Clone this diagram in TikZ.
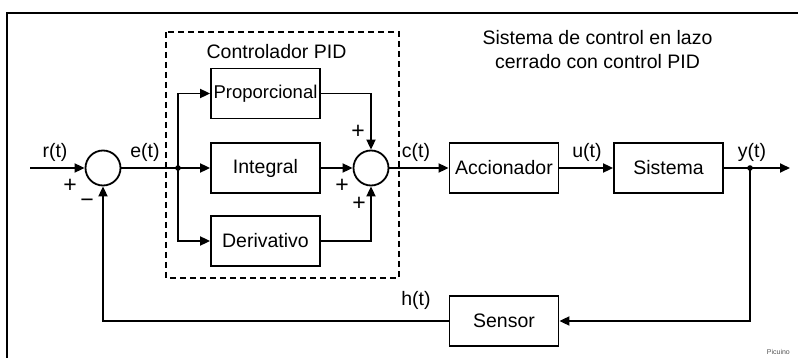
\documentclass[tikz,border=0pt]{standalone}
\usepackage{fontspec}
\setmainfont{Liberation Sans}
\usetikzlibrary{arrows.meta}

\begin{document}
\begin{tikzpicture}[x=1pt, y=-1pt, line width=1.8pt,
	block/.style={draw, rectangle, minimum width=109pt, minimum height=50pt, inner sep=0pt, font=\fontsize{19.5}{21}\selectfont},
	sumnode/.style={draw, circle, minimum size=35pt, inner sep=0pt},
	lbl/.style={font=\fontsize{19.5}{21}\selectfont, inner sep=0pt},
	sgn/.style={font=\fontsize{23}{23}\selectfont, inner sep=0pt},
	sig/.style={-{Triangle[length=10pt,width=9pt]}}]
	\definecolor{cFrame}{HTML}{000000}
	\definecolor{cCredit}{HTML}{555555}

	\useasboundingbox (0,0) rectangle (798,358);

	\draw[cFrame, line width=2.8pt] (7,360) -- (7,13) -- (800,13);
	\draw[dash pattern=on 6pt off 4pt] (166,32) rectangle (399,278);

	\node[lbl] (ctrl) at (276.5,52) {Controlador PID};
	\node[lbl, align=center] (title) at (597.5,50) {Sistema de control en lazo\\[3pt]cerrado con control PID};

	\node[block] (prop) at (265.5,93.5) {\fontsize{18.5}{20}\selectfont Proporcional};
	\node[block] (integ) at (265.5,168) {Integral};
	\node[block] (deriv) at (265.5,241) {Derivativo};
	\node[block] (accion) at (504,168) {Accionador};
	\node[block] (sistema) at (668.5,168) {Sistema};
	\node[block] (sensor) at (504,321) {Sensor};

	\node[sumnode] (sum1) at (103,168) {};
	\node[sumnode] (sum2) at (371,168) {};

	\coordinate (in) at (30,168);
	\coordinate (out) at (790,168);
	\coordinate (br1) at (178,168);
	\coordinate (br2) at (750,168);

	% forward path
	\draw[sig] (in) -- (sum1);
	\draw (sum1) -- (br1);
	\draw[sig] (br1) -- (integ);
	\draw[sig] (br1) |- (prop);
	\draw[sig] (br1) |- (deriv);
	\draw[sig] (prop) -| (sum2);
	\draw[sig] (integ) -- (sum2);
	\draw[sig] (deriv) -| (sum2);
	\draw[sig] (sum2) -- (accion);
	\draw[sig] (accion) -- (sistema);
	\draw[sig] (sistema) -- (out);

	% feedback path
	\draw[sig] (br2) |- (sensor);
	\draw[sig] (sensor) -| (sum1);

	\fill (br1) circle (2.8pt);
	\fill (br2) circle (2.8pt);

	\node[lbl] (rt) at (55,152) {r(t)};
	\node[lbl] (et) at (145,152) {e(t)};
	\node[lbl] (ct) at (416,152) {c(t)};
	\node[lbl] (ut) at (587,152) {u(t)};
	\node[lbl] (yt) at (752,152) {y(t)};
	\node[lbl] (ht) at (416,300) {h(t)};

	\node[sgn] (p1) at (70,186) {+};
	\node[sgn] (m1) at (87,203) {−};
	\node[sgn] (p2) at (358,132) {+};
	\node[sgn] (p3) at (342,186) {+};
	\node[sgn] (p4) at (359,204) {+};

	\node[font=\fontsize{7}{7}\selectfont, text=cCredit, anchor=west, inner sep=0pt] (credit) at (766,352) {Picuino};
\end{tikzpicture}
\end{document}
